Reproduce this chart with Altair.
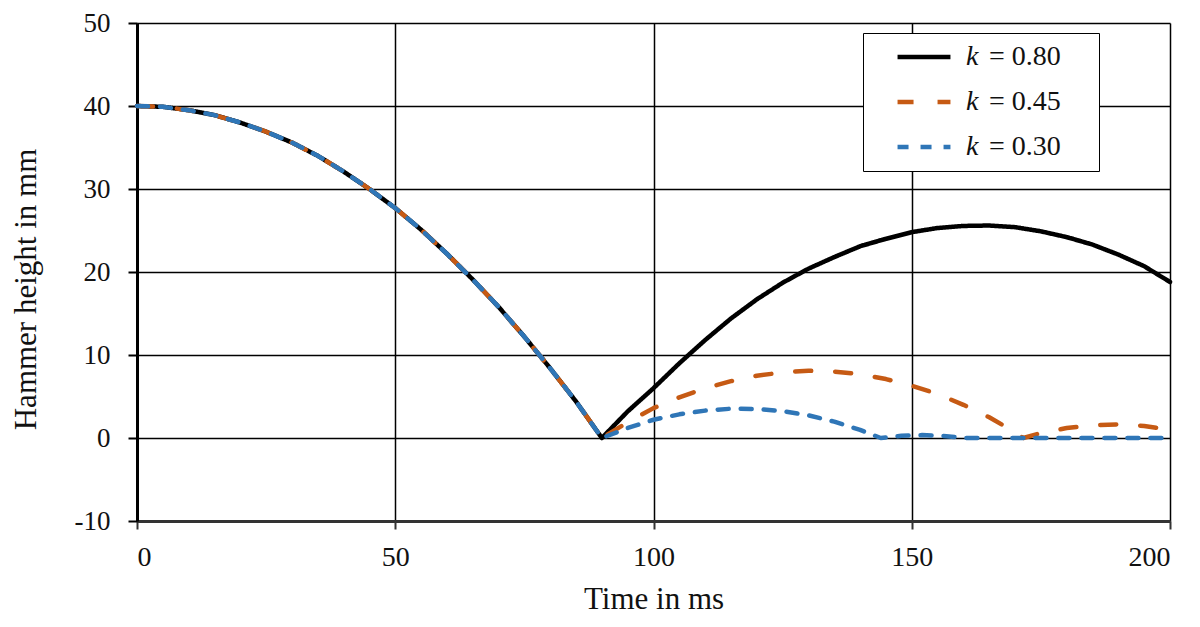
import altair as alt
import pandas as pd

# ---- data ----
series_names = ["k = 0.80", "k = 0.45", "k = 0.30"]
series_keys = ["k1", "k2", "k3"]
series_colors = ["#000000", "#C65A14", "#2F76B7"]

# shared free fall (all three curves)
fall_t = [0, 5, 10, 15, 20, 25, 30, 35, 40, 45, 50, 55, 60, 65, 70, 75, 80, 85, 90]
fall_h = [40, 39.9, 39.5, 38.9, 38.0, 36.9, 35.6, 34.0, 32.1, 30.0, 27.7, 25.1,
          22.2, 19.1, 15.8, 12.2, 8.4, 4.4, 0]

k080_t = [95, 100, 105, 110, 115, 120, 125, 130, 135, 140, 145, 150, 155, 160,
          165, 170, 175, 180, 185, 190, 195, 200]
k080_h = [3.2, 6.0, 9.0, 11.8, 14.4, 16.7, 18.7, 20.4, 21.8, 23.1, 24.0, 24.8,
          25.3, 25.55, 25.6, 25.4, 24.9, 24.2, 23.3, 22.1, 20.7, 18.8]

k045_t = [95, 100, 105, 110, 115, 120, 125, 130, 135, 140, 145, 150, 155, 160,
          165, 170, 171.6, 175, 180, 185, 190, 195, 200]
k045_h = [1.9, 3.6, 4.9, 6.0, 6.85, 7.5, 7.9, 8.1, 8.0, 7.7, 7.1, 6.3, 5.3, 4.0,
          2.5, 0.7, 0, 0.6, 1.2, 1.55, 1.64, 1.45, 1.0]

k030_t = [95, 100, 105, 110, 115, 120, 125, 130, 135, 140, 144, 148, 152, 156,
          160, 170, 180, 190, 200]
k030_h = [1.2, 2.2, 2.85, 3.3, 3.53, 3.5, 3.24, 2.73, 1.97, 0.98, 0, 0.26, 0.35,
          0.26, 0, 0, 0, 0, 0]

x_ticks = [0, 50, 100, 150, 200]
y_ticks = [-10, 0, 10, 20, 30, 40, 50]

rows = []
for name, key, ts, hs in zip(series_names, series_keys,
                             [k080_t, k045_t, k030_t], [k080_h, k045_h, k030_h]):
    for t, h in zip(fall_t + ts, fall_h + hs):
        rows.append({"t": t, "h": h, "series": name, "key": key})
df = pd.DataFrame(rows)

FONT = "Liberation Serif"
NBSP = "\u00a0"
ZWSP = "\u200b"

legend_common = dict(
    title=None,
    orient="none",
    legendX=726,
    legendY=10,
    symbolType="stroke",
    symbolSize=2800,
    symbolOffset=22,
    labelFont=FONT,
    labelFontSize=28,
    labelColor="#111111",
    clipHeight=28,
    rowPadding=17,
    padding=10,
)

# legend 1: box, line symbols and the upright "= 0.80" part of each label
color = alt.Color(
    "series:N",
    scale=alt.Scale(domain=series_names, range=series_colors),
    legend=alt.Legend(
        symbolStrokeWidth=4.5,
        labelOffset=36,
        labelExpr="replace(datum.label, 'k ', '') + '" + NBSP * 4 + ZWSP + "'",
        strokeColor="#000000",
        fillColor="#ffffff",
        **legend_common,
    ),
)
dash = alt.StrokeDash(
    "series:N",
    scale=alt.Scale(domain=series_names, range=[[1, 0], [16, 24], [11, 12]]),
    legend=None,
)
# legend 2: the italic "k" of each label, drawn over legend 1
opacity = alt.Opacity(
    "key:N",
    scale=alt.Scale(domain=series_keys, range=[1, 1, 1]),
    legend=alt.Legend(
        labelOffset=18,
        labelFontStyle="italic",
        labelExpr="'k'",
        symbolStrokeWidth=0,
        symbolStrokeColor="transparent",
        symbolOpacity=0,
        **legend_common,
    ),
)

base = alt.Chart(df).encode(
    x=alt.X(
        "t:Q",
        scale=alt.Scale(domain=[0, 200], nice=False),
        axis=alt.Axis(
            values=x_ticks,
            title="Time in ms",
            titleFont=FONT,
            titleFontSize=31,
            titleFontWeight="normal",
            titleColor="#111111",
            titleBaseline="alphabetic",
            titleY=87,
            labelFont=FONT,
            labelFontSize=28,
            labelColor="#111111",
            labelBaseline="alphabetic",
            labelPadding=36,
            tickSize=8,
            tickWidth=2,
            tickColor="#333333",
            domainColor="#333333",
            domainWidth=3,
            gridColor="#000000",
            gridWidth=1.5,
        ),
    ),
    y=alt.Y(
        "h:Q",
        scale=alt.Scale(domain=[-10, 50], nice=False),
        axis=alt.Axis(
            values=y_ticks,
            labelExpr="'' + datum.value",
            title="Hammer height in mm",
            titleFont=FONT,
            titleFontSize=31,
            titleFontWeight="normal",
            titleColor="#111111",
            titleAngle=270,
            titleBaseline="middle",
            titleAlign="center",
            titleX=-111,
            titleY=266,
            labelFont=FONT,
            labelFontSize=27,
            labelColor="#111111",
            labelPadding=18,
            tickSize=9,
            tickWidth=2,
            tickColor="#000000",
            domainColor="#000000",
            domainWidth=3,
            gridColor="#000000",
            gridWidth=1.5,
        ),
    ),
    color=color,
    strokeDash=dash,
    opacity=opacity,
)

layers = [
    base.transform_filter(alt.datum.series == name).mark_line(
        strokeWidth=4.5, strokeCap="round", strokeJoin="round"
    )
    for name in series_names
]

chart = (
    alt.layer(*layers)
    .properties(
        width=1033,
        height=498,
        autosize=alt.AutoSizeParams(type="none"),
        padding={"left": 129, "top": 15, "right": 22, "bottom": 100},
        background="#ffffff",
    )
    .configure_view(stroke=None)
)

chart.save("out.html", embed_options={"renderer": "svg", "actions": False})
